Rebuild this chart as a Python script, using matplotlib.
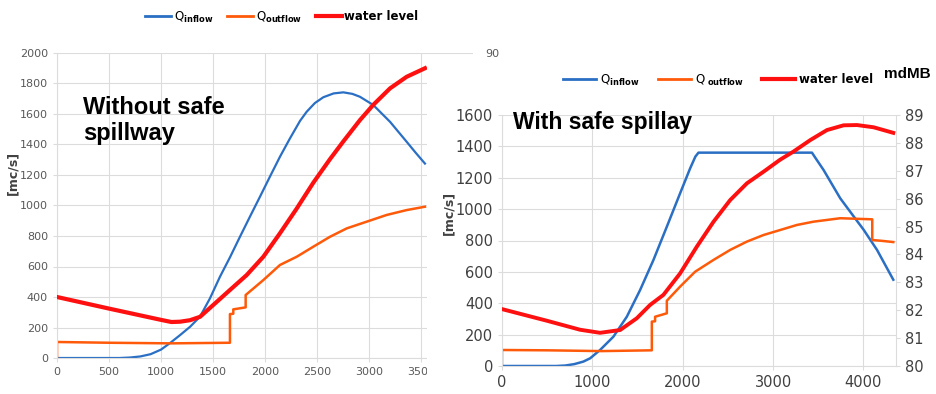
import matplotlib
matplotlib.use("Agg")
import matplotlib.pyplot as plt
from matplotlib.patches import Rectangle
from matplotlib.lines import Line2D

# ---------------- data: left panel (without safe spillway) ----------------
L_in_x = [0, 600, 700, 800, 900, 1000, 1087, 1183, 1280, 1375, 1470, 1567, 1663, 1760, 1856, 1952,
          2048, 2144, 2240, 2337, 2401, 2480, 2561, 2660, 2753, 2840, 2913, 3041, 3202, 3362, 3450, 3538]
L_in_q = [0, 0, 3, 10, 25, 55, 98, 150, 205, 271, 390, 533, 660, 796, 928, 1058,
          1190, 1320, 1440, 1555, 1615, 1672, 1710, 1735, 1742, 1732, 1713, 1659, 1549, 1418, 1345, 1275]

L_out_x = [0, 0, 500, 1100, 1663, 1663, 1695, 1695, 1814, 1814, 1984, 2144, 2305, 2465, 2625,
           2786, 2978, 3170, 3362, 3538]
L_out_q = [0, 105, 100, 96, 100, 288, 290, 319, 332, 413, 511, 610, 664, 730, 795,
           850, 894, 938, 970, 992]

L_lvl_x = [0, 500, 1000, 1100, 1183, 1280, 1375, 1503, 1663, 1824, 1984, 2144, 2305, 2465,
           2625, 2753, 2913, 3041, 3202, 3362, 3538]
L_lvl = [82.0, 81.62, 81.25, 81.18, 81.19, 81.24, 81.35, 81.74, 82.23, 82.72, 83.32, 84.09, 84.9, 85.75,
         86.52, 87.1, 87.8, 88.3, 88.84, 89.22, 89.5]

# ---------------- data: right panel (with safe spillway) ----------------
R_in_x = [0, 600, 700, 800, 900, 975, 1085, 1233, 1381, 1528, 1676, 1824, 1971, 2082, 2140,
          2174, 3430, 3470, 3558, 3743, 3909, 4000, 4150, 4330]
R_in_q = [0, 0, 3, 12, 28, 49, 102, 187, 314, 484, 676, 888, 1101, 1260, 1335,
          1360, 1360, 1325, 1250, 1069, 940, 870, 740, 550]

R_out_x = [0, 0, 500, 1100, 1658, 1658, 1694, 1694, 1824, 1824, 1971, 2137, 2340, 2525, 2710,
           2894, 3079, 3263, 3447, 3743, 4097, 4097, 4200, 4330]
R_out_q = [0, 102, 100, 95, 100, 283, 285, 314, 336, 416, 506, 601, 676, 740, 793,
           835, 867, 899, 920, 942, 935, 803, 798, 790]

R_lvl_x = [0, 500, 864, 1085, 1307, 1491, 1639, 1786, 1971, 2156, 2340, 2525, 2710, 2900,
           3079, 3226, 3411, 3596, 3780, 3928, 4112, 4330]
R_lvl = [82.04, 81.62, 81.3, 81.19, 81.29, 81.71, 82.19, 82.55, 83.32, 84.28, 85.17, 85.95, 86.55, 86.98,
         87.4, 87.69, 88.10, 88.46, 88.63, 88.64, 88.56, 88.36]

L_xticks = [0, 500, 1000, 1500, 2000, 2500, 3000, 3500]
L_yticks = [0, 200, 400, 600, 800, 1000, 1200, 1400, 1600, 1800, 2000]
L_y2ticks = [90]
R_xticks = [0, 1000, 2000, 3000, 4000]
R_yticks = [0, 200, 400, 600, 800, 1000, 1200, 1400, 1600]
R_y2ticks = [80, 81, 82, 83, 84, 85, 86, 87, 88, 89]

BLUE = "#2a6fc4"
ORANGE = "#ff5a0a"
RED = "#ff1010"
GRID = "#dcdcdc"
W, H = 937, 394

fig = plt.figure(figsize=(W / 100, H / 100), dpi=100)
fig.patch.set_facecolor("white")


def px_rect(x0, y0, x1, y1):
    return [x0 / W, 1 - y1 / H, (x1 - x0) / W, (y1 - y0) / H]


def style(ax, size, color):
    for s in ["top", "right"]:
        ax.spines[s].set_visible(False)
    for s in ["left", "bottom"]:
        ax.spines[s].set_color(GRID)
    ax.tick_params(axis="both", colors=GRID, labelcolor=color, labelsize=size, length=3)
    ax.grid(True, color=GRID, lw=0.8)
    ax.set_axisbelow(True)


# ---------------- left panel ----------------
axL = fig.add_axes(px_rect(57, 53, 473, 358), zorder=0)
axL.set_facecolor("white")
axL.plot(L_in_x, L_in_q, color=BLUE, lw=1.6)
axL.plot(L_out_x, L_out_q, color=ORANGE, lw=1.8)
axL.set_xlim(0, 4000)
axL.set_ylim(0, 2000)
axL.set_xticks(L_xticks)
axL.set_yticks(L_yticks)
style(axL, 8, "#595959")
axL2 = axL.twinx()
axL2.set_zorder(0.1)
axL2.plot(L_lvl_x, L_lvl, color=RED, lw=3)
axL2.set_ylim(80, 90)
axL2.set_yticks(L_y2ticks)
for s in ["top", "left", "bottom", "right"]:
    axL2.spines[s].set_visible(False)
axL2.tick_params(axis="y", length=0, labelsize=8, labelcolor="#595959", pad=9)

fig.text(83 / W, 1 - 96 / H, "Without safe\nspillway", fontsize=17, fontweight="bold",
         family=["Liberation Sans", "DejaVu Sans"], va="top", ha="left", linespacing=1.15, zorder=0.5)
fig.text(13 / W, 1 - 173 / H, "[mc/s]", rotation=90, fontsize=9, fontweight="bold",
         color="#404040", ha="center", va="center")

hL = [Line2D([], [], color=BLUE, lw=2), Line2D([], [], color=ORANGE, lw=2), Line2D([], [], color=RED, lw=3)]
legL = fig.legend(hL, [r"Q$_{\mathbf{inflow}}$", r"Q$_{\mathbf{outflow}}$", "water level"],
                  loc="center", bbox_to_anchor=(282 / W, 1 - 17 / H), ncol=3, frameon=False,
                  fontsize=8.5, handlelength=2.2, handletextpad=0.2, columnspacing=1.2)
for t in legL.get_texts()[2:]:
    t.set_fontweight("bold")

# white cover of the overlaid right picture
cover = Rectangle((427 / W, 0), 1 - 427 / W, 1 - 62 / H, transform=fig.transFigure,
                  facecolor="white", edgecolor="none", zorder=1)
fig.add_artist(cover)

# ---------------- right panel ----------------
axR = fig.add_axes(px_rect(502, 115, 896, 366), zorder=2)
axR.set_facecolor("none")
axR.plot(R_in_x, R_in_q, color=BLUE, lw=1.8)
axR.plot(R_out_x, R_out_q, color=ORANGE, lw=1.8)
axR.set_xlim(0, 4360)
axR.set_ylim(0, 1600)
axR.set_xticks(R_xticks)
axR.set_yticks(R_yticks)
style(axR, 10.5, "#404040")
axR2 = axR.twinx()
axR2.set_zorder(2.1)
axR2.plot(R_lvl_x, R_lvl, color=RED, lw=2.8)
axR2.set_ylim(80, 89)
axR2.set_yticks(R_y2ticks)
for s in ["top", "left", "bottom"]:
    axR2.spines[s].set_visible(False)
axR2.spines["right"].set_color(GRID)
axR2.tick_params(axis="y", colors=GRID, labelcolor="#404040", labelsize=10.5, length=3)

fig.text(513 / W, 1 - 123 / H, "With safe spillay", fontsize=16.5, fontweight="bold",
         family=["Liberation Sans", "DejaVu Sans"], va="center", ha="left", zorder=3)
fig.text(449 / W, 1 - 213 / H, "[mc/s]", rotation=90, fontsize=9, fontweight="bold",
         color="#404040", ha="center", va="center", zorder=3)

hR = [Line2D([], [], color=BLUE, lw=2), Line2D([], [], color=ORANGE, lw=2), Line2D([], [], color=RED, lw=3)]
legR = fig.legend(hR, [r"Q$_{\mathbf{inflow}}$", r"Q$_{\mathbf{\ outflow}}$", "water level"],
                  loc="center", bbox_to_anchor=(718 / W, 1 - 80 / H), ncol=3, frameon=False,
                  fontsize=8.5, handlelength=2.8, handletextpad=0.3, columnspacing=1.6)
legR.set_zorder(3)
for t in legR.get_texts()[2:]:
    t.set_fontweight("bold")
fig.text(907 / W, 1 - 74 / H, "mdMB", fontsize=11, fontweight="bold",
         family=["Liberation Sans", "DejaVu Sans"], ha="center", va="center", zorder=3)

fig.savefig("out.png", dpi=100, facecolor="white")
